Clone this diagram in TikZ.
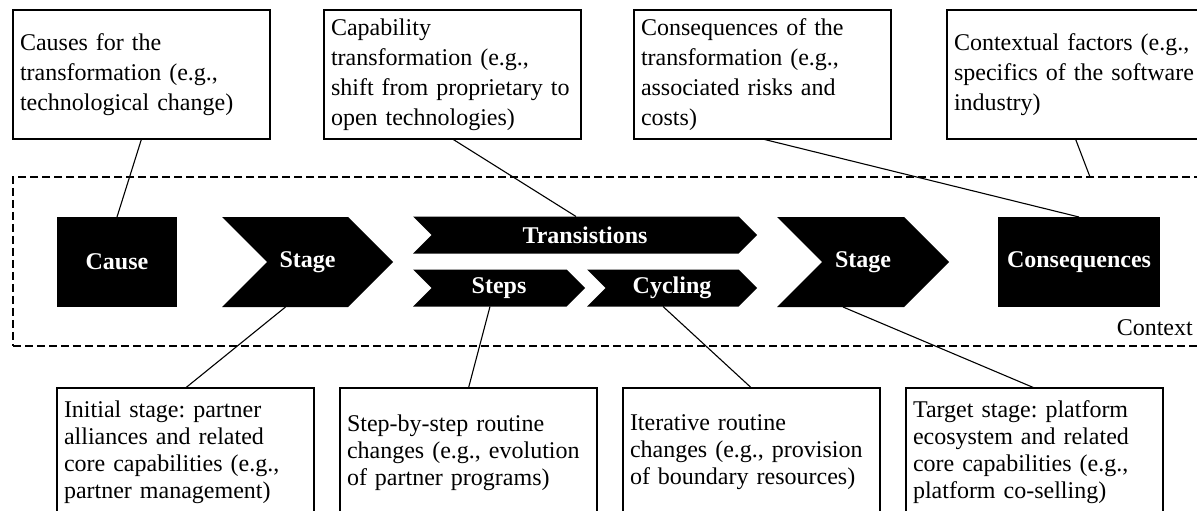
\documentclass[tikz,border=0pt]{standalone}
\usepackage{fontspec}
\setmainfont{Liberation Serif}
\usetikzlibrary{calc}
\begin{document}
\frenchspacing
\begin{tikzpicture}[x=1pt,y=-1pt,
  infobox/.style={draw, line width=1.4pt, anchor=north west, text width=243pt,
    minimum height=129pt, inner xsep=7pt, inner ysep=0pt, outer sep=0pt,
    align=left},
  topbox/.style={infobox, font=\fontsize{24}{30}\selectfont},
  botbox/.style={infobox, font=\fontsize{24}{27}\selectfont},
  block/.style={fill=black, text=white, inner sep=0pt, outer sep=0pt,
    font=\fontsize{24}{27}\selectfont\bfseries},
  % arrow-like band: notch on the left, point on the right, both #1 deep
  chevron/.style={block, fill=white, path picture={
    \fill[black] (path picture bounding box.north west)
      -- ([xshift=-#1]path picture bounding box.north east)
      -- (path picture bounding box.east)
      -- ([xshift=-#1]path picture bounding box.south east)
      -- (path picture bounding box.south west)
      -- ([xshift=#1]path picture bounding box.west) -- cycle;}},
  link/.style={line width=1.1pt},
  ctxframe/.style={draw, dash pattern=on 8pt off 4pt, line width=1.2pt,
    anchor=north west, inner sep=0pt, outer sep=0pt}
]
\useasboundingbox (0,0) rectangle (1197,511);

% context frame
\node[ctxframe, minimum width=1200, minimum height=169] (ctx) at (13,177) {};
\node[font=\fontsize{24}{27}\selectfont, anchor=base east, inner sep=0pt]
  (ctxlabel) at (1193,335) {Context};

% process elements
\node[block, minimum width=120, minimum height=90] (cause) at (117,262) {Cause};
\node[chevron=45, minimum width=171, minimum height=90] (stage1) at (307.5,262) {Stage};
\node[chevron=18.5, minimum width=344, minimum height=37] (trans) at (585,235) {Transistions};
\node[chevron=18.5, minimum width=172, minimum height=37] (steps) at (499,288) {Steps};
\node[chevron=18.5, minimum width=170, minimum height=37] (cycling) at (672,288) {Cycling};
\node[chevron=45, minimum width=172, minimum height=90] (stage2) at (863,262) {Stage};
\node[block, minimum width=162, minimum height=90] (conseq) at (1079,262) {Consequences};

% explanations above
\node[topbox] (t1) at (13,10) {Causes for the\\transformation (e.g.,\\technological change)};
\node[topbox] (t2) at (324,10) {Capability\\transformation (e.g.,\\shift from proprietary to\\open technologies)};
\node[topbox] (t3) at (634,10) {Consequences of the\\transformation (e.g.,\\associated risks and\\costs)};
\node[topbox] (t4) at (947,10) {Contextual factors (e.g.,\\specifics of the software\\industry)};

% explanations below (they run past the lower edge)
\node[botbox] (b1) at (57,388) {Initial stage: partner\\alliances and related\\core capabilities (e.g.,\\partner management)};
\node[botbox] (b2) at (340,388) {Step-by-step routine\\changes (e.g., evolution\\of partner programs)};
\node[botbox] (b3) at (623,388) {Iterative routine\\changes (e.g., provision\\of boundary resources)};
\node[botbox] (b4) at (906,388) {Target stage: platform\\ecosystem and related\\core capabilities (e.g.,\\platform co-selling)};

% connectors
\coordinate (ctxhook) at ($(ctx.north west)+(1077,0)$);
\draw[link] (t1.south) -- (cause.north);
\draw[link] (t2.south) -- ([xshift=-9pt]trans.north);
\draw[link] (t3.south) -- (conseq.north);
\draw[link] (t4.south) -- (ctxhook);
\draw[link] ([xshift=-22pt]stage1.south) -- (b1.north);
\draw[link] ([xshift=-9pt]steps.south) -- (b2.north);
\draw[link] ([xshift=-9pt]cycling.south) -- (b3.north);
\draw[link] ([xshift=-20pt]stage2.south) -- (b4.north);
\end{tikzpicture}
\end{document}
